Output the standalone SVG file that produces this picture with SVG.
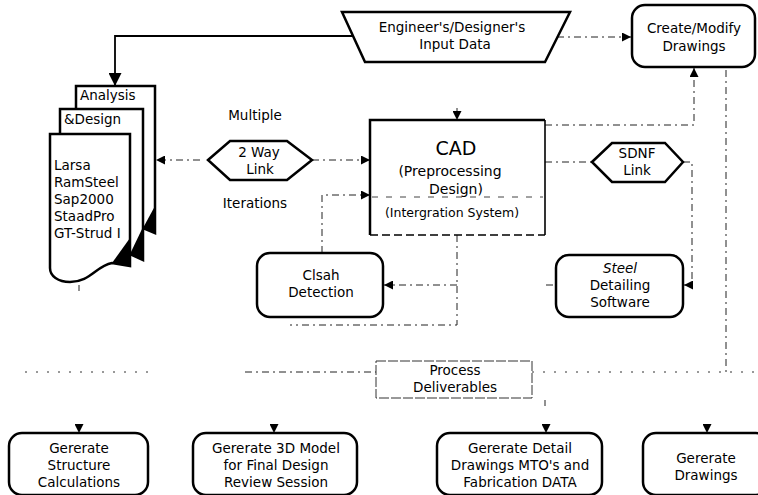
<svg xmlns="http://www.w3.org/2000/svg" width="758" height="495" viewBox="0 0 758 495">
<defs>
<style>
.box{fill:#fff;stroke:#000;stroke-width:2.5}
.t{font-family:"DejaVu Sans",sans-serif;font-size:13.5px;fill:#000;text-anchor:middle}
.tl{text-anchor:start}
.c{fill:none;stroke:#222;stroke-width:1;stroke-dasharray:7 4 2 4}
.d{fill:none;stroke:#333;stroke-width:1;stroke-dasharray:2 9}
.s{fill:none;stroke:#000;stroke-width:1.8}
.blk{fill:#000;stroke:none}
</style>
<marker id="a" markerUnits="userSpaceOnUse" markerWidth="9" markerHeight="9" refX="9" refY="4.5" orient="auto"><path d="M0,0 L9,4.5 L0,9 Z" fill="#000"/></marker>
<marker id="A" markerUnits="userSpaceOnUse" markerWidth="13" markerHeight="13" refX="13" refY="6.5" orient="auto"><path d="M0,0 L13,6.5 L0,13 Z" fill="#000"/></marker>
</defs>

<g id="connectors">
<path class="s" d="M353,36 H115 V86" marker-end="url(#A)"/>
<path class="c" d="M557,37 H631" marker-end="url(#a)"/>
<path class="c" d="M457,108 V120" marker-end="url(#a)"/>
<path class="c" d="M545,125 H694 V68" marker-end="url(#a)"/>
<path class="c" d="M726,70 V372"/>
<path class="c" d="M312,160 H370" marker-end="url(#a)"/>
<path class="c" d="M200,160 H156" marker-end="url(#a)"/>
<path class="c" d="M322,253 V195 H370" marker-end="url(#a)"/>
<path class="c" d="M457,235 V325 H290"/>
<path class="c" d="M457,285 H384" marker-end="url(#a)"/>
<path class="c" d="M546,285 H556"/>
<path class="c" d="M545,162 H592"/>
<path class="c" d="M683,162 H692 V285 H684" marker-end="url(#a)"/>
<path class="d" d="M25,372 H152"/>
<path class="c" d="M245,372 H376"/>
<path class="d" d="M532,372 H756"/>
<path class="c" d="M79,285 V291"/>
<path class="c" d="M545,400 V406"/>
<path class="c" d="M79,424 V433" marker-end="url(#a)"/>
<path class="c" d="M274,424 V433" marker-end="url(#a)"/>
<path class="c" d="M546,424 V433" marker-end="url(#a)"/>
<path class="c" d="M707,424 V433" marker-end="url(#a)"/>
</g>

<g id="input-data">
<polygon class="box" points="342,12 570,12 545,62 365,62"/>
<text class="t" x="452" y="32">Engineer's/Designer's</text>
<text class="t" x="455" y="49">Input Data</text>
</g>

<g id="create-modify">
<rect class="box" x="632" y="5" width="123" height="62" rx="13"/>
<text class="t" x="694" y="33">Create/Modify</text>
<text class="t" x="694" y="51">Drawings</text>
</g>

<g id="analysis-design">
<path class="box" d="M76,109 V86 H155 V233 L143,228"/>
<polygon class="blk" points="155,206 155,233 143,228"/>
<path class="box" d="M60,134 V109 H143 V260 L130,254"/>
<polygon class="blk" points="143,227 143,260 130,254"/>
<path class="box" d="M50,134 H130 V266 L112,263 C96,266 90,282 70,282 C58,282 50,276 50,268 Z"/>
<polygon class="blk" points="130,238 130,266 112,263"/>
<text class="t tl" x="80" y="100">Analysis</text>
<text class="t tl" x="64" y="124">&amp;Design</text>
<text class="t tl" x="54" y="170">Larsa</text>
<text class="t tl" x="54" y="187">RamSteel</text>
<text class="t tl" x="54" y="204">Sap2000</text>
<text class="t tl" x="54" y="221">StaadPro</text>
<text class="t tl" x="54" y="238">GT-Strud I</text>
</g>

<g id="multiple-label">
<text class="t" x="255" y="120">Multiple</text>
</g>
<g id="iterations-label">
<text class="t" x="255" y="208">Iterations</text>
</g>

<g id="two-way-link">
<polygon class="box" points="208,160 230,141 287,141 312,160 287,180 230,180"/>
<text class="t" x="259" y="157">2 Way</text>
<text class="t" x="260" y="174">Link</text>
</g>

<g id="cad">
<rect x="370" y="120" width="175" height="115" fill="#fff"/>
<path d="M370,235 V120 H545" fill="none" stroke="#000" stroke-width="2.5"/>
<path d="M545,120 V235" fill="none" stroke="#000" stroke-width="1.6"/>
<path d="M370,235 H545" fill="none" stroke="#000" stroke-width="1.6" stroke-dasharray="8 4"/>
<path d="M372,197 H543" fill="none" stroke="#444" stroke-width="1" stroke-dasharray="6 8"/>
<text class="t" x="456" y="155" style="font-size:19px">CAD</text>
<text class="t" x="450" y="176" style="font-size:14px">(Preprocessing</text>
<text class="t" x="456" y="194" style="font-size:14px">Design)</text>
<text class="t" x="452" y="217" style="font-size:12.5px">(Intergration System)</text>
</g>

<g id="sdnf-link">
<polygon class="box" points="592,162 612,143 665,143 683,162 665,182 612,182"/>
<text class="t" x="637" y="158">SDNF</text>
<text class="t" x="637" y="175">Link</text>
</g>

<g id="clash-detection">
<rect class="box" x="257" y="253" width="126" height="64" rx="13"/>
<text class="t" x="321" y="280">Clsah</text>
<text class="t" x="321" y="297">Detection</text>
</g>

<g id="steel-detailing">
<rect class="box" x="556" y="255" width="127" height="62" rx="13"/>
<text class="t" x="620" y="273" font-style="italic">Steel</text>
<text class="t" x="620" y="290">Detailing</text>
<text class="t" x="620" y="307">Software</text>
</g>

<g id="process-deliverables">
<rect x="376" y="361" width="156" height="37" fill="#fff" stroke="#333" stroke-width="1" stroke-dasharray="10 2"/>
<text class="t" x="455" y="375">Process</text>
<text class="t" x="455" y="392">Deliverables</text>
</g>

<g id="structure-calc">
<rect class="box" x="9" y="433" width="139" height="62" rx="13"/>
<text class="t" x="79" y="453">Gererate</text>
<text class="t" x="79" y="470">Structure</text>
<text class="t" x="79" y="487">Calculations</text>
</g>

<g id="model-3d">
<rect class="box" x="193" y="433" width="164" height="62" rx="13"/>
<text class="t" x="276" y="453">Gererate 3D Model</text>
<text class="t" x="276" y="470">for Final Design</text>
<text class="t" x="276" y="487">Review Session</text>
</g>

<g id="detail-drawings">
<rect class="box" x="437" y="433" width="165" height="62" rx="13"/>
<text class="t" x="520" y="453">Gererate Detail</text>
<text class="t" x="520" y="470">Drawings MTO's and</text>
<text class="t" x="520" y="487">Fabrication DATA</text>
</g>

<g id="generate-drawings">
<rect class="box" x="643" y="433" width="126" height="62" rx="13"/>
<text class="t" x="706" y="463">Gererate</text>
<text class="t" x="706" y="480">Drawings</text>
</g>
</svg>
